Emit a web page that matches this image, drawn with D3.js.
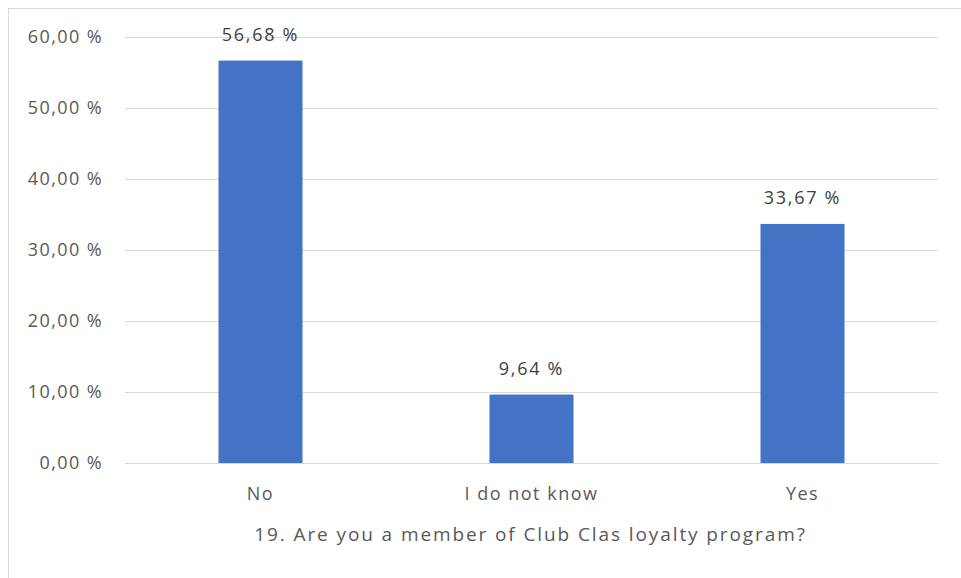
<!DOCTYPE html>
<html><head><meta charset="utf-8">
<script src="https://cdn.jsdelivr.net/npm/d3@7"></script>
<style>body{margin:0;background:#fff;} text{font-family:"Open Sans",sans-serif;}</style>
</head><body>
<svg id="c" width="961" height="578"></svg>
<script>
const categories = ["No", "I do not know", "Yes"];
const values = [56.68, 9.64, 33.67];
const tickValues = [0, 10, 20, 30, 40, 50, 60];
const axisTitle = "19. Are you a member of Club Clas loyalty program?";

const svg = d3.select("#c");
const W = 961, H = 578;
const m = {left: 125, right: 23, top: 37, bottom: 115};
const fmt = v => v.toFixed(2).replace(".", ",") + " %";
const FONT = "Open Sans";

svg.append("rect").attr("x", 8.5).attr("y", 8.5).attr("width", W + 10).attr("height", H + 10)
  .attr("fill", "#fff").attr("stroke", "#d9d9d9").attr("stroke-width", 1);

const x = d3.scaleBand().domain(categories).range([m.left, W - m.right]).paddingInner(0.69).paddingOuter(0.345);
const y = d3.scaleLinear().domain([0, 60]).range([H - m.bottom, m.top]);

const g = svg.append("g");
const yAxis = d3.axisLeft(y).tickValues(tickValues).tickSize(-(W - m.left - m.right)).tickPadding(22).tickFormat(fmt);
g.append("g").attr("transform", `translate(${m.left},0)`).call(yAxis)
  .call(a => a.select(".domain").remove())
  .call(a => a.selectAll("line").attr("stroke", "#d9d9d9").attr("stroke-width", 1))
  .call(a => a.selectAll("text").attr("fill", "#595959").attr("font-size", 18).attr("font-family", FONT).attr("letter-spacing", 1.4));

g.selectAll("rect.bar").data(values).join("rect").attr("class", "bar")
  .attr("x", (d, i) => x(categories[i])).attr("width", x.bandwidth())
  .attr("y", d => y(d)).attr("height", d => y(0) - y(d)).attr("fill", "#4472c4");

g.selectAll("text.lbl").data(values).join("text").attr("class", "lbl")
  .attr("x", (d, i) => x(categories[i]) + x.bandwidth() / 2).attr("y", d => y(d) - 19.5)
  .attr("text-anchor", "middle").attr("fill", "#404040").attr("font-size", 18).attr("letter-spacing", 1.7).text(fmt);

const xAxis = d3.axisBottom(x).tickSize(0).tickPadding(24.5);
g.append("g").attr("transform", `translate(0,${y(0)})`).call(xAxis)
  .call(a => a.select(".domain").attr("stroke", "#d9d9d9"))
  .call(a => a.selectAll("text").attr("fill", "#595959").attr("font-size", 18).attr("font-family", FONT).attr("letter-spacing", 1.5));

svg.append("text").attr("x", (m.left + W - m.right) / 2 - 1).attr("y", 541).attr("text-anchor", "middle")
  .attr("fill", "#595959").attr("font-size", 19).attr("letter-spacing", 1.9).text(axisTitle);
</script>
</body></html>
